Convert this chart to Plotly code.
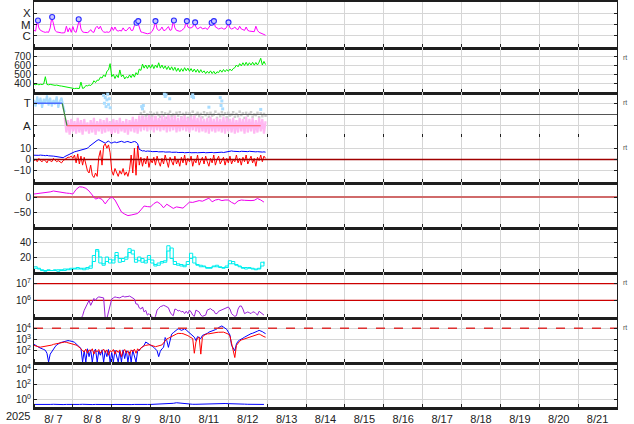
import pandas as pd
import plotly.graph_objects as go
from plotly.subplots import make_subplots

START = pd.Timestamp("2025-08-07 00:00")
END = pd.Timestamp("2025-08-22 00:00")

# ---------------- data ----------------
# Panel 1: X-ray flux, hourly from 8/7 00h, units of 1e-6 W/m2
xray = [3.0, 2.6, 23, 5.0, 3.0, 2.4, 2.2, 2.0, 2.2, 2.0, 5.0, 46,
        8.0, 3.0, 2.2, 2.0, 1.9, 1.8, 1.8, 1.9, 7.0, 2.2, 5.0, 2.0,
        6.5, 2.4, 2.0, 10, 28, 4.0, 2.2, 2.0, 2.0, 1.9, 2.3, 3.5,
        2.2, 2.0, 5.0, 7.0, 4.0, 7.0, 3.0, 2.2, 2.0, 2.2, 2.0, 2.4,
        6.0, 3.0, 6.0, 3.0, 2.6, 3.0, 2.6, 5.0, 3.0, 2.8, 4.0, 6.0,
        3.0, 3.0, 8.0, 14, 20, 6.0, 2.2, 2.0, 1.8, 1.6, 1.5, 1.6,
        1.8, 2.5, 5.0, 20, 4.0, 3.0, 3.4, 6.0, 3.0, 3.0, 4.0, 6.5,
        3.0, 3.5, 23, 5.0, 3.0, 2.6, 2.5, 2.8, 3.5, 5.0, 20, 6.0,
        5.0, 5.0, 6.0, 15, 6.0, 4.0, 5.0, 6.0, 4.0, 4.5, 5.0, 3.5,
        6.0, 9.0, 14, 20, 6.0, 5.0, 4.0, 4.5, 5.0, 4.0, 4.0, 6.0,
        15, 5.0, 4.0, 4.5, 6.0, 4.0, 3.5, 7.0, 4.0, 3.5, 3.0, 6.0,
        3.0, 2.6, 2.4, 2.4, 2.3, 7.0, 3.0, 2.0, 1.8, 1.6, 1.3, 1.1]
flare_hours = [2.45, 11.2, 27.6, 63.3, 64.4, 75.0, 86.4, 94.4, 99.5, 109.7, 111.1, 120.1]
flare_flux = [23, 46, 29, 14.5, 20, 20, 23, 20, 15.5, 14.5, 20, 15.5]
xray_classes = ["X", "M", "C"]
xray_class_flux = [1e-4, 1e-5, 1e-6]

# Panel 2: solar wind speed (km/s), hourly
speed = [385, 381, 388, 380, 386, 383, 389, 470, 384, 380, 385, 379,
         378, 374, 377, 370, 368, 366, 362, 358, 355, 352, 348, 346,
         343, 338, 341, 336, 339, 410, 340, 346, 372, 368, 378, 372,
         390, 425, 405, 432, 430, 465, 455, 490, 470, 530, 545, 615,
         470, 495, 450, 490, 460, 545, 470, 490, 445, 470, 455, 490,
         460, 500, 465, 515, 490, 555, 540, 610, 565, 600, 560, 600,
         565, 605, 560, 600, 570, 625, 565, 600, 560, 590, 550, 585,
         545, 580, 540, 575, 530, 565, 525, 560, 530, 570, 535, 565,
         530, 560, 525, 555, 520, 552, 515, 548, 515, 535, 505, 530,
         508, 535, 505, 530, 500, 525, 515, 545, 520, 550, 525, 550,
         530, 555, 535, 560, 570, 600, 580, 615, 590, 625, 595, 630,
         595, 625, 600, 630, 598, 628, 600, 632, 675, 600, 640, 605]
speed_ticks = [400, 500, 600, 700]

# Panel 3: IMF sector (T = +1, A = -1)
sector_toward_h = [0.0, 17.4]
sector_switch_h = [17.4, 20.4]
sector_switch_v = [1, -1]
sector_away_h = [20.4, 140.0]
toward_cloud = [1.3, 0.7, 1.6, 0.9, 1.5, 0.6, 1.4, 1.0, 1.7, 0.8, 1.5, 0.7,
                1.3, 0.9, 1.6, 0.6, 1.2, 1.5, 0.8, 0.2]           # hourly from 0h
toward_pts_h = [43.0, 43.5, 44.0, 44.5, 45.0, 45.5, 46.0, 46.5, 47.0, 66.5, 67.0, 67.5,
                80.5, 81.0, 81.5, 83.8, 97.5, 98.0, 98.5, 108.0, 115.0, 115.5, 116.0,
                116.5, 140.0]
toward_pts_v = [1.7, 1.0, 1.5, 0.7, 1.3, 1.8, 0.9, 1.4, 0.6, 0.7, 0.5, 0.8,
                1.8, 1.6, 1.75, 1.4, 1.6, 1.75, 1.5, 0.65, 1.5, 0.8, 1.2, 0.5, 0.45]
AWAY_CLOUD_START_H = 19
away_cloud = [-0.3, -1.6, -0.5, -1.8, -0.4, -1.5, -0.6, -1.7, -0.3, -1.6, -0.5, -1.8,
              -0.4, -1.5, -0.7, -1.7, -0.5, -1.6, -0.3, -1.8, -0.6, -1.5, -0.4, -1.7,
              -0.5, -1.6, -0.3, -1.5, -0.6, -1.8, -0.4, -1.6, -0.5, -1.7, -0.3, -1.5,
              -0.6, -1.6, -0.4, -1.8, -0.5, -1.5, -0.2, -1.6, -0.4, -1.7, -0.1, -1.5,
              -0.1, -1.4, -0.2, -1.5, 0.0, -1.4, -0.2, -1.6, -0.1, -1.4, -0.3, -1.5,
              -0.1, -1.4, -0.2, -1.6, 0.0, -1.5, -0.2, -1.4, -0.1, -1.6, -0.3, -1.5,
              -0.2, -1.4, -0.1, -1.5, -0.3, -1.6, -0.2, -1.4, -0.1, -1.5, -0.3, -1.6,
              -0.2, -1.5, -0.4, -1.6, -0.3, -1.7, -0.2, -1.5, -0.4, -1.6, -0.3, -1.5,
              -0.4, -1.6, -0.2, -1.7, -0.3, -1.5, -0.4, -1.6, -0.3, -1.7, -0.5, -1.6,
              -0.3, -1.5, -0.4, -1.7, -0.2, -1.6, -0.4, -1.5, -0.3, -1.7, -0.5, -1.6,
              -0.3, -1.5, -0.4, -1.7, -0.6]
GRAY_CLOUD_START_H = 66
gray_cloud = [0.10, -0.20, 0.25, -0.10, 0.00, -0.30, 0.20, -0.15, 0.05, -0.25, 0.15, -0.05,
              -0.20, 0.20, -0.10, 0.10, -0.30, 0.05, 0.25, -0.15, 0.00, -0.20, 0.15, -0.10,
              0.20, -0.25, 0.05, -0.05, 0.15, -0.30, 0.10, -0.10, 0.25, -0.20, 0.00, 0.15,
              -0.15, 0.05, -0.25, 0.20, -0.05, 0.10, -0.20, 0.15, -0.10, 0.00, 0.25, -0.30,
              0.05, -0.15, 0.20, -0.05, 0.10, -0.25, 0.15, -0.10, 0.00, 0.20, -0.20, 0.05,
              -0.15, 0.25, -0.05, 0.10, -0.30, 0.15, -0.10, 0.05, 0.20, -0.20, 0.00, -0.05,
              0.15, -0.25, 0.10, -0.15, 0.05, -0.10]

# Panel 4: IMF Bt and Bz (nT), hourly
bt = [3.8, 3.6, 4.0, 3.7, 3.9, 3.5, 3.6, 3.4, 3.7, 3.3, 3.4, 3.1,
      3.0, 2.8, 2.6, 2.3, 2.1, 1.8, 1.6, 2.6, 3.4, 4.0, 4.8, 5.5,
      6.2, 6.8, 7.2, 7.6, 8.0, 8.2, 8.6, 9.0, 9.4, 10.0, 11.5, 12.6,
      14.0, 15.5, 16.5, 17.0, 17.6, 16.8, 16.0, 15.0, 14.5, 15.5, 16.5, 15.0,
      14.6, 15.2, 15.6, 15.0, 15.4, 15.8, 16.2, 15.6, 15.2, 15.8, 16.0, 15.4,
      15.0, 15.6, 16.0, 15.5, 14.0, 9.0, 8.0, 7.6, 7.8, 7.2, 7.5, 7.1,
      7.3, 7.0, 7.2, 6.9, 7.1, 6.8, 7.0, 6.7, 6.9, 6.6, 6.8, 6.5,
      6.7, 6.4, 6.6, 6.3, 6.5, 6.2, 6.4, 6.1, 6.3, 6.0, 6.3, 6.1,
      6.3, 6.0, 6.2, 5.9, 6.1, 6.0, 6.2, 5.9, 6.1, 6.3, 6.0, 6.2,
      6.4, 6.1, 6.3, 6.0, 6.2, 6.4, 6.1, 6.3, 6.5, 6.2, 6.6, 6.9,
      7.4, 7.2, 7.6, 7.3, 7.1, 7.4, 7.2, 7.0, 7.3, 7.1, 7.4, 7.2,
      7.0, 7.3, 7.1, 6.9, 7.2, 6.8, 7.0, 6.7, 6.9, 6.6, 6.8, 6.5]
bz = [-1, 0, -2, 1, -1, -2, 0, -1, -3, 0, -1, -2,
      1, -1, -2, -1, -2, -3, -1, 0, 1, 2, 2, 3,
      1, 4, -3, 5, -4, 3, -5, 2, -4, -10, -12, -5,
      -14, -16, -12, -15, 2, 8, -5, 12, 14, 10, 13, 6,
      -10, -14, -8, -12, -15, -10, -13, -8, -14, -11, -15, -9,
      4, -12, 10, -14, 12, -5, 2, -6, 1, -4, 3, -7,
      0, -3, 2, -5, 3, -2, -6, 1, -4, 4, -3, -7,
      2, -2, -5, 3, -4, 0, -6, 2, -3, 4, -5, 1,
      -2, 3, -6, 0, -3, 4, -5, -1, 2, -4, 3, -2,
      -6, 1, -3, 4, -5, 0, 3, -4, -1, 2, -5, 1,
      -3, 3, -4, 0, -2, 4, -3, 1, -5, 2, -2, 4,
      -4, 0, 3, -3, 1, -6, 2, -1, 4, -2, 3, 1]
imf_ticks = [-10, 0, 10]

# Panel 5: Dst (nT), every 2 h
dst = [10, 11, 12, 13, 15, 17, 20, 18, 15, 14, 13, 12,
       10, 25, 34, 33, 29, 20, 5, -7, -3, -8, -23, -8,
       0, -10, -30, -50, -57, -62, -60, -58, -55, -43, -30, -32,
       -33, -22, -16, -23, -36, -24, -30, -38, -33, -35, -37, -27,
       -17, -18, -15, -12, -14, -10, -4, -16, -10, -8, -12, -10,
       -10, -18, -23, -13, -10, -11, -12, -12, -11, -5, -10, -17]
dst_ticks = [0, -50]

# Panel 6: two cyan series, every 2 h
cyan_a = [7, 5, 3, 2, 3, 2, 3, 3, 2, 4, 3, 5,
          4, 6, 4, 5, 4, 8, 22, 28, 12, 9, 20, 12,
          16, 26, 13, 18, 20, 31, 24, 13, 20, 13, 15, 22,
          12, 8, 12, 14, 13, 35, 18, 10, 11, 8, 9, 14,
          25, 12, 9, 9, 7, 5, 6, 8, 7, 7, 5, 8,
          15, 11, 9, 7, 5, 6, 6, 4, 4, 5, 13, 11]
cyan_b = [5, 4, 2, 1, 2, 2, 2, 1, 3, 2, 4, 3,
          5, 4, 5, 3, 6, 5, 14, 30, 20, 11, 14, 17,
          12, 22, 18, 14, 17, 26, 29, 17, 15, 18, 12, 17,
          16, 10, 9, 12, 15, 28, 32, 14, 9, 10, 7, 10,
          18, 20, 10, 7, 8, 6, 5, 7, 9, 6, 6, 6,
          11, 14, 10, 8, 6, 4, 5, 5, 3, 4, 8, 14]
cyan_ticks = [20, 40]

# Panel 7: electron fluence, hourly from 29 h
ELECTRON_START_H = 29
electron = [8e4, 1.2e5, 2.5e5, 4e5, 7e5, 1.0e6, 5e5, 8e5, 1.3e6, 1.0e6, 1.4e6, 1.6e6,
            1.5e6, 1.4e6, 1.4e6, 8e4, 8e4, 2e5, 6e5, 1.2e6, 1.4e6, 1.6e6, 1.5e6, 1.4e6,
            1.4e6, 1.6e6, 1.8e6, 1.6e6, 1.6e6, 1.7e6, 1.8e6, 1.6e6, 1.5e6, 1.2e6, 6e5, 6e5,
            3.5e5, 3e5, 4e5, 2e5, 2.5e5, 1.3e5, 1.6e5, 1.2e5, 9e4, 8e4, 1.1e5, 2.6e5,
            3.3e5, 4.2e5, 4.5e5, 5e5, 4.6e5, 4e5, 3.6e5, 2e5, 1.4e5, 1.2e5, 3e5, 2.8e5,
            2.3e5, 2.5e5, 2e5, 2.2e5, 1.6e5, 2.2e5, 1.6e5, 2.6e5, 2e5, 1.3e5, 1.1e5, 2.6e5,
            2.2e5, 2e5, 1.3e5, 1.1e5, 1.2e5, 1.3e5, 2.6e5, 3e5, 3.2e5, 2.6e5, 2.4e5, 1.6e5,
            1.6e5, 2.2e5, 2.4e5, 2.6e5, 2.8e5, 3.2e5, 3.6e5, 4e5, 3e5, 1.6e5, 1.3e5, 1.1e5,
            1.2e5, 3e5, 4.5e5, 4.6e5, 3e5, 1.6e5, 1.8e5, 2e5, 1.8e5, 1.6e5, 2e5, 2e5,
            1.6e5, 1.3e5, 2.2e5, 1.8e5, 1.6e5, 1.3e5]
electron_lines = [1e7, 1e6]

# Panel 8: electron flux, two satellites, hourly
flux_blue = [370, 320, 250, 200, 160, 150, 130, 110, 60, 10, 50, 90,
             150, 220, 330, 420, 500, 560, 620, 700, 760, 800, 760, 750,
             650, 560, 420, 340, 250, 160, 10, 100, 10, 150, 30, 120,
             10, 80, 140, 10, 90, 40, 120, 10, 100, 30, 130, 10,
             70, 10, 110, 40, 10, 90, 10, 120, 20, 100, 10, 80,
             10, 110, 30, 10, 90, 120, 160, 200, 300, 600, 500, 400,
             300, 250, 200, 150, 100, 30, 90, 150, 200, 1500, 800, 200,
             900, 3000, 4000, 5000, 7000, 9000, 8000, 6500, 7500, 9000, 7000, 5000,
             4000, 3000, 2200, 1600, 800, 1800, 1500, 1200, 2300, 2600, 3000, 3500,
             4500, 5000, 6500, 7000, 7500, 9000, 12000, 14000, 16000, 13000, 10000, 8000,
             4500, 2500, 300, 150, 100, 400, 700, 900, 1000, 1300, 1600, 2000,
             2400, 3000, 3300, 3600, 4000, 4500, 5500, 6500, 6000, 5000, 4000, 3300]
flux_red = [300, 260, 240, 220, 210, 220, 230, 240, 260, 280, 300, 320,
            370, 400, 440, 480, 500, 550, 580, 600, 560, 520, 500, 450,
            400, 350, 320, 260, 210, 150, 100, 80, 140, 60, 120, 90,
            150, 50, 110, 80, 130, 60, 100, 140, 70, 120, 40, 100,
            80, 130, 50, 110, 70, 120, 30, 90, 130, 60, 100, 40,
            120, 80, 140, 60, 150, 100, 180, 230, 270, 300, 330, 340,
            320, 280, 260, 230, 250, 270, 300, 330, 500, 800, 1100, 1300,
            1600, 1900, 2300, 2800, 3100, 3500, 3700, 3400, 3300, 3000, 2600, 2200,
            1800, 1500, 1200, 60, 600, 1300, 1600, 50, 1600, 2400, 3000, 3200,
            3200, 3500, 3800, 4000, 4200, 4300, 4400, 4500, 4800, 4500, 4000, 3500,
            3000, 2000, 400, 60, 25, 300, 500, 700, 900, 1000, 1100, 1300,
            1400, 1600, 1800, 2000, 2300, 2500, 2800, 3100, 2600, 2000, 1800, 1600]
flux_alert = [1e4]

# Panel 9: proton flux, every 2 h
proton = [0.22, 0.21, 0.23, 0.22, 0.21, 0.22, 0.23, 0.21, 0.22, 0.21, 0.22, 0.21,
          0.22, 0.21, 0.22, 0.23, 0.21, 0.22, 0.21, 0.22, 0.21, 0.22, 0.21, 0.22,
          0.21, 0.22, 0.21, 0.22, 0.23, 0.22, 0.21, 0.22, 0.21, 0.22, 0.23, 0.22,
          0.22, 0.23, 0.22, 0.23, 0.24, 0.25, 0.27, 0.31, 0.37, 0.33, 0.28, 0.26,
          0.24, 0.23, 0.23, 0.24, 0.25, 0.26, 0.27, 0.29, 0.31, 0.30, 0.31, 0.29,
          0.28, 0.26, 0.25, 0.24, 0.23, 0.24, 0.23, 0.22, 0.23, 0.22, 0.23, 0.22]

# ---------------- helpers ----------------
def hours_to_time(hours):
    return [START + pd.Timedelta(hours=float(h)) for h in hours]

def series_times(n, step_h=1, start_h=0):
    return [START + pd.Timedelta(hours=start_h + k * step_h) for k in range(n)]

span = [START, END]

fig = make_subplots(rows=9, cols=1, shared_xaxes=True, vertical_spacing=0)

def line(x, y, color, row, width=1, shape="linear", dash="solid"):
    fig.add_trace(go.Scatter(x=x, y=y, mode="lines",
                             line=dict(color=color, width=width, shape=shape, dash=dash),
                             hoverinfo="skip"), row=row, col=1)

# Panel 1
line(series_times(len(xray)), [v * 1e-6 for v in xray], "#ff00ff", 1)
fig.add_trace(go.Scatter(x=hours_to_time(flare_hours), y=[v * 1e-6 for v in flare_flux],
                         mode="markers",
                         marker=dict(symbol="circle", size=5, color="#c8c8ff",
                                     line=dict(color="#2a2aff", width=1.1)),
                         hoverinfo="skip"), row=1, col=1)

# Panel 2
line(series_times(len(speed)), speed, "#00ee00", 2)

# Panel 3
line(series_times(len(toward_cloud)), toward_cloud, "#a8dcff", 3, width=2)
fig.add_trace(go.Scatter(x=hours_to_time(toward_pts_h), y=toward_pts_v, mode="markers",
                         marker=dict(symbol="square", size=3, color="#a8dcff"),
                         hoverinfo="skip"), row=3, col=1)
fig.add_trace(go.Scatter(x=series_times(len(gray_cloud), start_h=GRAY_CLOUD_START_H),
                         y=gray_cloud, mode="markers",
                         marker=dict(symbol="square", size=2.5, color="#cccccc"),
                         hoverinfo="skip"), row=3, col=1)
line(series_times(len(away_cloud), start_h=AWAY_CLOUD_START_H), away_cloud, "#ffb8f2", 3, width=2.2)
line(span, [0, 0], "#555555", 3)
line(hours_to_time(sector_toward_h), [1, 1], "#4a6cff", 3, width=1.5)
line(hours_to_time(sector_switch_h), sector_switch_v, "#3d8a3d", 3, width=1.2)
line(hours_to_time(sector_away_h), [-1, -1], "#ff5050", 3, width=1.2)

# Panel 4
line(series_times(len(bt)), bt, "#0000ff", 4)
line(series_times(len(bz)), bz, "#ff0000", 4)
line(span, [0, 0], "#a00000", 4, width=1.3)

# Panel 5
line(span, [0, 0], "#d06a6a", 5, width=2)
line(series_times(len(dst), step_h=2), dst, "#ee00ee", 5)

# Panel 6
line(series_times(len(cyan_b), step_h=2), cyan_b, "#00eeee", 6, shape="hv")
line(series_times(len(cyan_a), step_h=2), cyan_a, "#00eeee", 6, shape="hv")

# Panel 7
for lvl in electron_lines:
    line(span, [lvl, lvl], "#cc0000", 7, width=1.2)
line(series_times(len(electron), start_h=ELECTRON_START_H), electron, "#9a20d8", 7)

# Panel 8
line(series_times(len(flux_blue)), flux_blue, "#0000ff", 8)
line(series_times(len(flux_red)), flux_red, "#ff0000", 8)
line(span, [flux_alert[0], flux_alert[0]], "#dd3030", 8, width=1.5, dash="dash")

# Panel 9
line(series_times(len(proton), step_h=2), proton, "#0000ff", 9)

# ---------------- layout ----------------
GRID = "#d6d6d6"
AXC = "#1e1e1e"
fig.update_layout(width=634, height=424, margin=dict(l=34, r=17, t=2, b=17, autoexpand=False),
                  paper_bgcolor="white", plot_bgcolor="white", showlegend=False,
                  font=dict(family="Liberation Sans, Arial, sans-serif", size=11, color="#222"))

for r in range(1, 10):
    fig.update_xaxes(row=r, col=1, type="date", range=span, tick0=START, dtick=86400000,
                     tickformat="%-m/%e", ticklabelmode="period", automargin=False,
                     showgrid=True, gridcolor=GRID, gridwidth=1,
                     showline=True, linecolor=AXC, linewidth=3, mirror=(r == 1),
                     ticks="inside", ticklen=3, tickcolor=AXC, ticklabelstandoff=0,
                     tickfont=dict(size=11, color="#222"))

yaxis_specs = {
    1: dict(type="log", range=[-7, -3], tickvals=xray_class_flux, ticktext=xray_classes,
            tickfont=dict(size=11.5)),
    2: dict(range=[300, 800], tickvals=speed_ticks),
    3: dict(range=[-2, 2], tickvals=[1, -1], ticktext=["T", "A"], tickfont=dict(size=11.5)),
    4: dict(range=[-20, 20], tickvals=imf_ticks),
    5: dict(range=[-100, 50], tickvals=dst_ticks),
    6: dict(range=[0, 60], tickvals=cyan_ticks),
    7: dict(type="log", range=[5, 7.699], tickvals=[1e6, 1e7],
            ticktext=["10<sup>6</sup>", "10<sup>7</sup>"]),
    8: dict(type="log", range=[1, 5], tickvals=[1e2, 1e3, 1e4],
            ticktext=["10<sup>2</sup>", "10<sup>3</sup>", "10<sup>4</sup>"]),
    9: dict(type="log", range=[-1, 5], tickvals=[1, 1e2, 1e4],
            ticktext=["10<sup>0</sup>", "10<sup>2</sup>", "10<sup>4</sup>"]),
}
for r, spec in yaxis_specs.items():
    base = dict(showgrid=True, gridcolor=GRID, gridwidth=1, zeroline=False,
                showline=True, linecolor=AXC, linewidth=1, mirror="ticks",
                ticks="inside", ticklen=3, tickcolor=AXC, tickmode="array",
                automargin=False, tickfont=dict(size=10, color="#222"))
    if "tickfont" in spec:
        base["tickfont"] = dict(size=spec.pop("tickfont")["size"], color="#222")
    base.update(spec)
    fig.update_yaxes(row=r, col=1, **base)

fig.add_annotation(text="2025", xref="paper", yref="paper", x=-0.028, y=-0.021,
                   xanchor="center", yanchor="middle", showarrow=False,
                   font=dict(size=11, color="#222"))
for py in [57, 102, 147, 282, 327]:
    fig.add_annotation(text="rt", xref="paper", yref="paper", x=1.0137, y=(407 - py) / 405,
                       xanchor="center", yanchor="middle", showarrow=False,
                       font=dict(size=7, color="#555"))

fig.write_html("out.html", config={"displayModeBar": False},
               post_script="document.body.style.margin='0';"
                           "document.body.style.overflow='hidden';")
